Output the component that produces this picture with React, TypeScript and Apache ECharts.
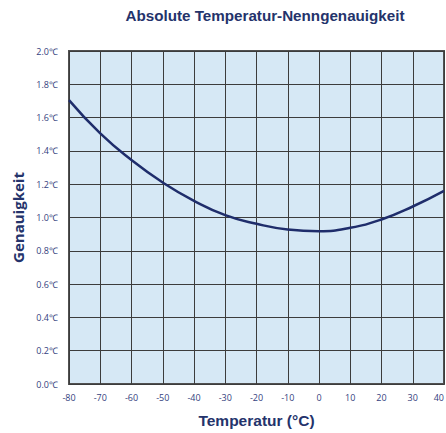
import React, { useEffect, useRef } from "react";
import * as echarts from "echarts";

const titleText = "Absolute Temperatur-Nenngenauigkeit";
const xAxisName = "Temperatur (°C)";
const yAxisName = "Genauigkeit";
const temperatures = [-80, -70, -60, -50, -40, -30, -20, -10, 0, 10, 20, 30, 40];
const accuracy = [1.705, 1.505, 1.345, 1.21, 1.10, 1.014, 0.962, 0.928, 0.918, 0.938, 0.988, 1.066, 1.16];

const navy = "#24336b";

export default function App() {
  const ref = useRef<HTMLDivElement>(null);
  useEffect(() => {
    if (!ref.current) return;
    const chart = echarts.init(ref.current, undefined, { renderer: "svg" });
    chart.setOption({
      animation: false,
      title: {
        text: titleText,
        left: 260,
        top: 3,
        textAlign: "center",
        textStyle: { fontFamily: "Liberation Sans, Arial", fontWeight: "bold", fontSize: 15.2, color: navy },
      },
      grid: {
        left: 69,
        right: 2,
        top: 51,
        bottom: 49,
        outerBoundsMode: "none",
        containLabel: false,
        show: true,
        backgroundColor: "#d6e8f5",
        borderColor: "#505050",
        borderWidth: 2,
      },
      xAxis: {
        type: "value",
        min: -80,
        max: 40,
        interval: 10,
        name: xAxisName,
        nameLocation: "middle",
        nameGap: 28,
        nameTextStyle: { fontFamily: "Liberation Sans, Arial", fontWeight: "bold", fontSize: 15.5, color: navy },
        axisLine: { show: false },
        axisTick: { show: false },
        axisLabel: { fontFamily: "Open Sans", fontSize: 9, color: "#34427e", margin: 9, alignMaxLabel: "right" },
        splitLine: { show: true, lineStyle: { color: "#3c3c3c", width: 1 } },
      },
      yAxis: {
        type: "value",
        min: 0,
        max: 2,
        interval: 0.2,
        name: yAxisName,
        nameLocation: "middle",
        nameGap: 43,
        nameTextStyle: { fontFamily: "Open Sans", fontWeight: "bold", fontSize: 15, color: navy },
        axisLine: { show: false },
        axisTick: { show: false },
        axisLabel: {
          fontFamily: "Open Sans",
          fontSize: 9,
          color: "#34427e",
          margin: 11,
          formatter: (v: number) => v.toFixed(1) + "℃",
        },
        splitLine: { show: true, lineStyle: { color: "#3c3c3c", width: 1 } },
      },
      series: [
        {
          type: "line",
          data: temperatures.map((t, i) => [t, accuracy[i]]),
          smooth: 0.5,
          showSymbol: false,
          lineStyle: { color: "#1f2d6b", width: 2.5 },
        },
      ],
    });
    return () => chart.dispose();
  }, []);
  return (
    <div
      ref={ref}
      style={{ position: "fixed", left: 0, top: 0, width: 446, height: 433, background: "#ffffff" }}
    />
  );
}
